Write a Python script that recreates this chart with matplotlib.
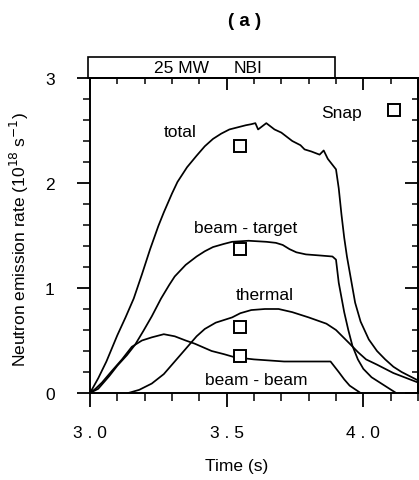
import numpy as np
import matplotlib
matplotlib.use("Agg")
import matplotlib.pyplot as plt
from matplotlib.patches import Rectangle
from matplotlib.ticker import MultipleLocator, FixedLocator

plt.rcParams['font.family'] = ['Liberation Sans', 'DejaVu Sans']

# ---- neutron emission rate components (1e18 /s) vs time (s) ----
t_total = [3.00, 3.03, 3.06, 3.10, 3.13, 3.16, 3.19, 3.22, 3.25, 3.27, 3.30, 3.32,
           3.355, 3.39, 3.42, 3.45, 3.48, 3.51, 3.54, 3.57, 3.59, 3.605, 3.615, 3.63,
           3.645, 3.66, 3.675, 3.70, 3.72, 3.74, 3.755, 3.77, 3.785, 3.81, 3.84, 3.855,
           3.87, 3.885, 3.90, 3.91, 3.92, 3.93, 3.94, 3.955, 3.97, 3.99, 4.02, 4.05,
           4.08, 4.11, 4.14, 4.17, 4.20]
total = [0.00, 0.14, 0.30, 0.55, 0.72, 0.90, 1.13, 1.37, 1.59, 1.72, 1.90, 2.01,
         2.15, 2.26, 2.35, 2.42, 2.47, 2.51, 2.53, 2.55, 2.56, 2.57, 2.51, 2.54,
         2.57, 2.54, 2.51, 2.48, 2.44, 2.40, 2.38, 2.36, 2.32, 2.30, 2.27, 2.31,
         2.23, 2.18, 2.13, 1.95, 1.70, 1.48, 1.30, 1.08, 0.86, 0.68, 0.51, 0.40,
         0.32, 0.25, 0.20, 0.16, 0.12]

t_bt = [3.00, 3.03, 3.07, 3.10, 3.135, 3.165, 3.195, 3.226, 3.26, 3.29, 3.31, 3.35,
        3.39, 3.42, 3.45, 3.49, 3.52, 3.58, 3.645, 3.68, 3.705, 3.73, 3.755, 3.79,
        3.84, 3.887, 3.90, 3.91, 3.93, 3.945, 3.96, 3.98, 4.00, 4.03, 4.06, 4.09, 4.12]
beam_target = [0.00, 0.04, 0.16, 0.26, 0.36, 0.46, 0.59, 0.73, 0.90, 1.03, 1.11, 1.22,
               1.30, 1.35, 1.39, 1.42, 1.44, 1.45, 1.44, 1.43, 1.41, 1.37, 1.34, 1.32,
               1.31, 1.30, 1.27, 1.05, 0.77, 0.60, 0.45, 0.32, 0.23, 0.15, 0.10, 0.05, 0.00]

t_th = [3.14, 3.18, 3.226, 3.27, 3.31, 3.35, 3.39, 3.42, 3.46, 3.52, 3.55, 3.59,
        3.64, 3.69, 3.74, 3.80, 3.865, 3.90, 3.95, 3.98, 4.01, 4.05, 4.08, 4.11,
        4.14, 4.17, 4.20]
thermal = [0.00, 0.03, 0.09, 0.18, 0.30, 0.42, 0.54, 0.61, 0.67, 0.72, 0.76, 0.79,
           0.80, 0.80, 0.77, 0.72, 0.66, 0.60, 0.47, 0.39, 0.32, 0.27, 0.23, 0.19,
           0.16, 0.13, 0.10]

t_bb = [3.00, 3.02, 3.044, 3.08, 3.117, 3.153, 3.19, 3.226, 3.27, 3.31, 3.35, 3.383,
        3.445, 3.49, 3.53, 3.60, 3.71, 3.80, 3.88, 3.91, 3.93, 3.95, 3.99]
beam_beam = [0.00, 0.04, 0.10, 0.21, 0.32, 0.44, 0.50, 0.53, 0.56, 0.54, 0.50, 0.47,
             0.40, 0.37, 0.34, 0.32, 0.30, 0.30, 0.30, 0.20, 0.13, 0.07, 0.00]

# Snap code points
snap_t = [3.547, 3.547, 3.547, 3.547]
snap_val = [2.35, 1.37, 0.63, 0.35]

nbi_start, nbi_end = 3.0, 3.895

fig = plt.figure(figsize=(4.19, 4.81), dpi=100)
ax = fig.add_axes([90 / 419, 1 - 394 / 481, 328 / 419, 315 / 481])

lw = 1.25
ax.plot(t_total, total, color='black', lw=lw)
ax.plot(t_bt, beam_target, color='black', lw=lw)
ax.plot(t_th, thermal, color='black', lw=lw)
ax.plot(t_bb, beam_beam, color='black', lw=lw)

ms = 8.5
ax.plot(snap_t, snap_val, ls='none', marker='s', ms=ms, mfc='white', mec='black', mew=1.4)
ax.plot([4.113], [2.70], ls='none', marker='s', ms=ms, mfc='white', mec='black', mew=1.4)

fs = 12.5
ax.text(3.92, 2.67, 'Snap', fontsize=fs, ha='center', va='center')
ax.text(3.33, 2.49, 'total', fontsize=fs, ha='center', va='center')
ax.text(3.57, 1.58, 'beam - target', fontsize=fs, ha='center', va='center')
ax.text(3.64, 0.94, 'thermal', fontsize=fs, ha='center', va='center')
ax.text(3.61, 0.13, 'beam - beam', fontsize=fs, ha='center', va='center')

# NBI timing bar above the frame
ax.add_patch(Rectangle((nbi_start - 0.007, 3.0), nbi_end - nbi_start + 0.007, 0.2,
                       fill=False, ec='black', lw=1.2, clip_on=False))
ax.text(3.336, 3.10, '25 MW', fontsize=fs, ha='center', va='center')
ax.text(3.577, 3.10, 'NBI', fontsize=fs, ha='center', va='center')

ax.set_xlim(3.0, 4.2)
ax.set_ylim(0, 3)

ax.xaxis.set_major_locator(FixedLocator([3.0, 3.5, 4.0]))
ax.xaxis.set_minor_locator(MultipleLocator(0.1))
ax.set_xticklabels(['3 . 0', '3 . 5', '4 . 0'])
ax.yaxis.set_major_locator(FixedLocator([0, 1, 2, 3]))
ax.yaxis.set_minor_locator(MultipleLocator(0.2))

for s in ax.spines.values():
    s.set_linewidth(1.4)

# top and right edges carry inward ticks only
top = ax.secondary_xaxis('top')
top.xaxis.set_major_locator(FixedLocator([3.0, 3.5, 4.0]))
top.xaxis.set_minor_locator(MultipleLocator(0.1))
top.tick_params(which='major', direction='in', length=8.5, width=1.3, labeltop=False)
top.tick_params(which='minor', direction='in', length=4.5, width=1.1)
top.spines['top'].set_linewidth(1.4)
right = ax.secondary_yaxis('right')
right.yaxis.set_major_locator(FixedLocator([0, 1, 2, 3]))
right.yaxis.set_minor_locator(MultipleLocator(0.2))
right.tick_params(which='major', direction='in', length=9.5, width=1.3, labelright=False)
right.tick_params(which='minor', direction='in', length=4.5, width=1.1)
right.spines['right'].set_linewidth(1.4)

ax.tick_params(axis='both', labelsize=12.5, width=1.3, color='black')
ax.tick_params(axis='x', which='major', direction='out', length=10, pad=13)
ax.tick_params(axis='x', which='minor', direction='out', length=5.5, width=1.1)
ax.tick_params(axis='y', which='major', direction='out', length=9.5, pad=16)
ax.tick_params(axis='y', which='minor', direction='out', length=5, width=1.1)

ax.set_xlabel('Time (s)', fontsize=12.5)
ax.xaxis.set_label_coords(0.447, -0.205)
ax.set_ylabel('Neutron emission rate (10$^{18}$ s$^{-1}$)', fontsize=12.5)
ax.yaxis.set_label_coords(-0.18, 0.49)

fig.text(245 / 419, 1 - 21 / 481, '( a )', fontsize=13.5, fontweight='bold',
         ha='center', va='center')

fig.savefig('out.png', dpi=100)
